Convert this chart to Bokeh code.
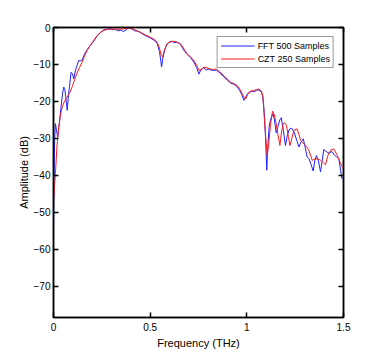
from bokeh.plotting import figure
from bokeh.models import LinearAxis, Range1d, FixedTicker, Legend, LegendItem, CustomJSTickFormatter
from bokeh.embed import file_html
from bokeh.resources import INLINE

czt_freq = [0.0, 0.005, 0.01, 0.018, 0.027, 0.035, 0.045, 0.058, 0.071, 0.085, 0.097, 0.11, 0.12, 0.135,
            0.148, 0.16, 0.174, 0.19, 0.208, 0.225, 0.243, 0.26, 0.278, 0.3, 0.33, 0.36, 0.39, 0.42, 0.45,
            0.475, 0.5, 0.52, 0.536, 0.548, 0.557, 0.564, 0.572, 0.585, 0.597, 0.62, 0.64, 0.657, 0.675,
            0.69, 0.71, 0.726, 0.74, 0.752, 0.765, 0.778, 0.8, 0.821, 0.842, 0.86, 0.881, 0.9, 0.916,
            0.935, 0.95, 0.965, 0.976, 0.987, 0.995, 1.003, 1.015, 1.036, 1.05, 1.062, 1.075, 1.083,
            1.09, 1.097, 1.105, 1.112, 1.122, 1.133, 1.142, 1.15, 1.16, 1.171, 1.18, 1.188, 1.197, 1.205,
            1.215, 1.223, 1.233, 1.243, 1.26, 1.27, 1.278, 1.29, 1.304, 1.321, 1.338, 1.355, 1.368, 1.381,
            1.395, 1.407, 1.42, 1.433, 1.45, 1.468, 1.485, 1.5]
czt_db = [-47.5, -43, -39.5, -32, -27, -24, -21.5, -19.8, -18.8, -17.5, -16, -14, -12.5, -10.8,
          -9.4, -7.8, -6.2, -4.8, -3.5, -2.2, -1.3, -0.8, -0.5, -0.4, -0.5, -0.4, -0.1, -0.6, -1.3,
          -2, -2.6, -3.2, -4, -5.5, -7.5, -8, -6.5, -4.6, -4, -3.7, -4, -4.4, -5.8,
          -7.1, -8, -8.9, -10.2, -11.6, -11.3, -10.7, -11, -11.4, -11.2, -12, -13, -14, -14.8,
          -15.2, -15.7, -16.8, -17.9, -19, -19.3, -18.2, -17.3, -17, -16.8, -16.6, -17.2, -18.5,
          -24, -29, -34.5, -32, -26.5, -22.6, -23.5, -25.5, -28.7, -31.9, -28, -26, -25.8, -26.5,
          -29.5, -31.9, -30, -27.8, -27.4, -29, -30.5, -31.2, -31.9, -33.2, -35.9, -35.5, -35.5, -35.9,
          -36.5, -37.1, -34.5, -33.2, -32.8, -34.6, -36.8, -38.2]

fft_freq = [0.0, 0.002, 0.006, 0.01, 0.016, 0.022, 0.03, 0.04, 0.048, 0.053, 0.058, 0.064, 0.071, 0.078,
            0.085, 0.091, 0.098, 0.105, 0.112, 0.12, 0.131, 0.14, 0.148, 0.16, 0.174, 0.19, 0.208, 0.225,
            0.243, 0.26, 0.278, 0.29, 0.305, 0.32, 0.335, 0.35, 0.36, 0.375, 0.39, 0.405, 0.42, 0.435,
            0.45, 0.475, 0.5, 0.52, 0.536, 0.548, 0.555, 0.559, 0.565, 0.575, 0.585, 0.597, 0.61, 0.625,
            0.64, 0.657, 0.675, 0.69, 0.71, 0.726, 0.74, 0.752, 0.762, 0.778, 0.79, 0.8, 0.821, 0.842,
            0.86, 0.881, 0.9, 0.916, 0.935, 0.95, 0.965, 0.976, 0.985, 0.995, 1.005, 1.015, 1.025, 1.036,
            1.05, 1.062, 1.075, 1.083, 1.09, 1.097, 1.103, 1.108, 1.115, 1.122, 1.135, 1.143, 1.152, 1.16,
            1.17, 1.178, 1.188, 1.2, 1.21, 1.22, 1.232, 1.245, 1.258, 1.269, 1.28, 1.292, 1.302, 1.312,
            1.322, 1.332, 1.343, 1.352, 1.36, 1.37, 1.381, 1.39, 1.398, 1.41, 1.425, 1.44, 1.455, 1.465,
            1.476, 1.485, 1.492, 1.5]
fft_db = [-57, -45, -30, -26, -28, -29.6, -26, -21, -17.5, -16.1, -16.5, -19, -22.4, -18,
          -15, -12.1, -12.5, -13.9, -12, -10.5, -8.9, -9, -8.9, -7.2, -6, -4.9, -3.7, -2.3,
          -1.4, -0.6, -0.5, -0.3, -0.6, -0.5, -0.9, -0.7, -1.1, -0.7, 0, -0.4, -0.9, -1,
          -1.4, -2.2, -2.8, -3.4, -4.3, -6.5, -9, -10.7, -8.5, -6, -4.8, -4, -3.7, -4.1,
          -4, -4.6, -6.2, -7.2, -8.2, -9.4, -10.8, -12.6, -11.5, -10.9, -11.5, -11.2, -11.6, -11.5,
          -12.3, -13.3, -14.3, -15, -15.4, -16, -17.2, -18.4, -19.7, -18.8, -17.8, -17.6, -17.2, -17.4,
          -17, -16.9, -17.4, -18.8, -23, -30, -38.6, -33, -27, -25, -23.3, -25, -28.5, -27,
          -25, -24.4, -27.5, -31.9, -29, -27.5, -27.2, -28.3, -30.5, -32.3, -31, -30.1, -32.5, -35,
          -35.5, -37, -38.8, -36, -34.6, -36, -39, -36, -33, -33.5, -34, -33.5, -34.6, -35,
          -35.5, -38.6, -40.9, -40.5]

x_ticks = [0, 0.5, 1, 1.5]
x_tick_labels = {0: "0", 0.5: "0.5", 1: "1", 1.5: "1.5"}
y_ticks = [-70, -60, -50, -40, -30, -20, -10, 0]
series_labels = ["FFT 500 Samples", "CZT 250 Samples"]
series_colors = ["#2020ff", "#ff1a1a"]

FONT = "Liberation Sans"

p = figure(width=374, height=351, output_backend="svg", toolbar_location=None,
           x_range=Range1d(0, 1.5), y_range=Range1d(-78.4, 0),
           min_border_left=53, min_border_right=31, min_border_top=27, min_border_bottom=34)
p.grid.visible = False
p.outline_line_color = "black"
p.outline_line_width = 1.5
p.background_fill_color = "white"
p.border_fill_color = "white"

def style_axis(ax, ticks):
    ax.ticker = FixedTicker(ticks=ticks)
    ax.major_tick_in = 5
    ax.major_tick_out = 0
    ax.minor_tick_in = 0
    ax.minor_tick_out = 0
    ax.axis_line_color = "black"
    ax.axis_line_width = 1.5
    ax.major_tick_line_color = "black"
    ax.major_tick_line_width = 1.5
    ax.major_label_text_font = FONT
    ax.major_label_text_font_size = "10px"
    ax.major_label_text_color = "black"
    ax.axis_label_text_font = FONT
    ax.axis_label_text_font_size = "11px"
    ax.axis_label_text_font_style = "normal"
    ax.axis_label_text_color = "black"

style_axis(p.xaxis[0], x_ticks)
style_axis(p.yaxis[0], y_ticks)
p.xaxis[0].major_label_overrides = x_tick_labels
p.xaxis[0].major_label_standoff = 5
p.xaxis[0].axis_label = "Frequency (THz)"
p.xaxis[0].axis_label_standoff = 3
p.yaxis[0].axis_label = "Amplitude (dB)"
p.yaxis[0].major_label_standoff = 3
p.yaxis[0].axis_label_standoff = 1

top = LinearAxis(formatter=CustomJSTickFormatter(code="return '';"))
style_axis(top, x_ticks)
right = LinearAxis(formatter=CustomJSTickFormatter(code="return '';"))
style_axis(right, y_ticks)
p.add_layout(top, "above")
p.add_layout(right, "right")

r_fft = p.line(fft_freq, fft_db, line_color=series_colors[0], line_width=1)
r_czt = p.line(czt_freq, czt_db, line_color=series_colors[1], line_width=1)

legend = Legend(items=[LegendItem(label=series_labels[0], renderers=[r_fft]),
                       LegendItem(label=series_labels[1], renderers=[r_czt])],
                location="top_right")
legend.margin = 9
legend.padding = 3
legend.spacing = 2
legend.label_height = 10
legend.glyph_height = 11
legend.glyph_width = 34
legend.label_standoff = 3
legend.label_text_font = FONT
legend.label_text_font_size = "9px"
legend.label_text_color = "black"
legend.border_line_color = "#333333"
legend.border_line_width = 1.5
legend.background_fill_alpha = 1
p.add_layout(legend)

open("out.html", "w").write(file_html(p, INLINE))
